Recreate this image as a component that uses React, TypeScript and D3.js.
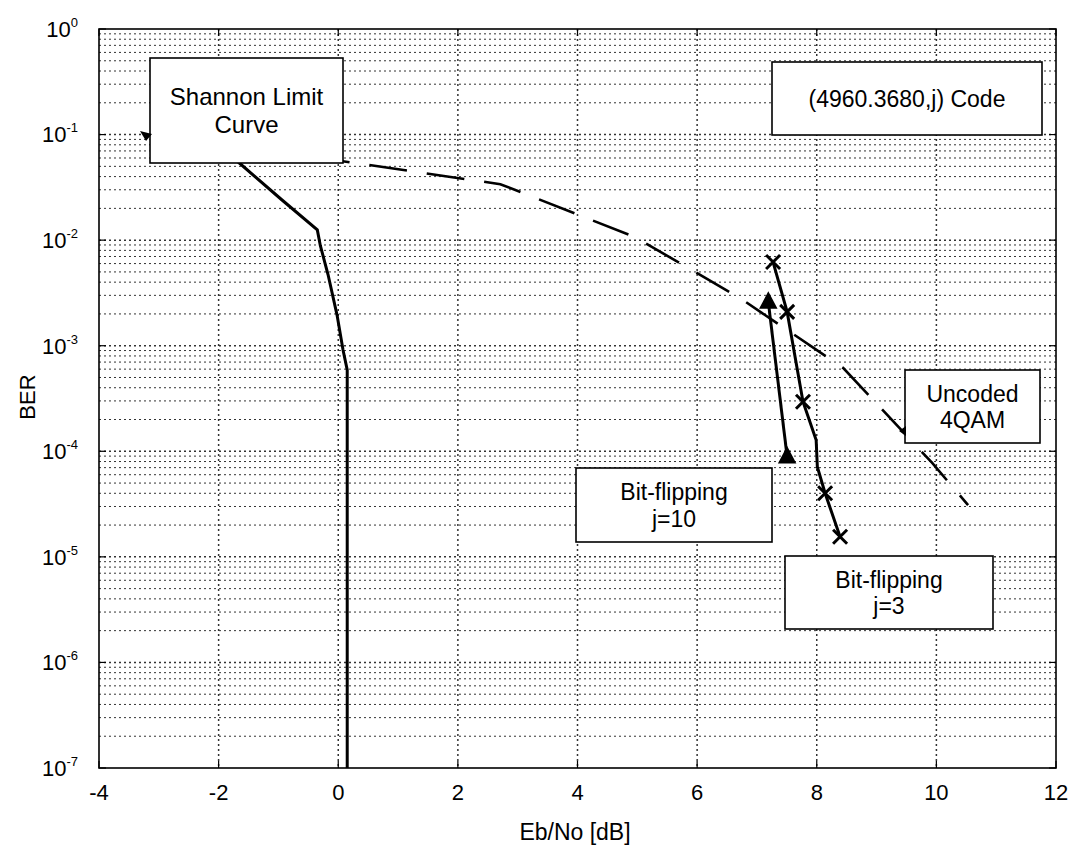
import React from 'react';
import * as d3 from 'd3';

// Shannon limit curve
const shannonX = [-1.75, -0.94, -0.35, -0.3, -0.17, -0.02, 0.08, 0.15, 0.15];
const shannonY = [0.06, 0.024, 0.0125, 0.0089, 0.0047, 0.00195, 0.00091, 0.00059, 1e-7];

// uncoded 4QAM (dashed)
const uncodedX = [-0.44, 2.71, 4.96, 6.72, 8.44, 9.93, 10.53];
const uncodedY = [0.0617, 0.0339, 0.0107, 0.00282, 6.17e-4, 7.76e-5, 3.09e-5];

// bit-flipping j=3 (x markers), mark = draw a marker
const bf3X = [7.27, 7.505, 7.77, 7.99, 8.01, 8.14, 8.39];
const bf3Y = [6.2e-3, 2.09e-3, 2.95e-4, 1.28e-4, 7.1e-5, 4.0e-5, 1.55e-5];
const bf3Mark = [true, true, true, false, false, true, true];

// bit-flipping j=10 (triangles)
const bf10X = [7.19, 7.505];
const bf10Y = [2.6e-3, 8.9e-5];

const xTicks = [-4, -2, 0, 2, 4, 6, 8, 10, 12];
const yExps = [0, -1, -2, -3, -4, -5, -6, -7];

const W = 1069, H = 847;
const left = 99, right = 1056, top = 29, bottom = 768;

export default function App() {
  const x = d3.scaleLinear().domain([-4, 12]).range([left, right]);
  const y = d3.scaleLog().domain([1e-7, 1]).range([bottom, top]);

  const line = d3.line<[number, number]>().x(d => x(d[0])).y(d => y(d[1]));
  const zip = (a: number[], b: number[]) => a.map((v, i) => [v, b[i]] as [number, number]);

  const minor: number[] = [];
  for (let e = -7; e < 0; e++) for (let k = 2; k <= 9; k++) minor.push(k * Math.pow(10, e));

  const font = 'Liberation Sans, Arial, sans-serif';

  const box = (x0: number, y0: number, x1: number, y1: number, lines: string[], fs = 23) => {
    const cx = (x0 + x1) / 2, cy = (y0 + y1) / 2;
    const lh = fs * 1.15;
    return (
      <g>
        <rect x={x0} y={y0} width={x1 - x0} height={y1 - y0} fill="#fff" stroke="#000" strokeWidth={1.6} />
        {lines.map((t, i) => (
          <text key={i} x={cx} y={cy + (i - (lines.length - 1) / 2) * lh} dy="0.36em"
            textAnchor="middle" fontSize={fs} fontFamily={font}>{t}</text>
        ))}
      </g>
    );
  };

  return (
    <svg width={W} height={H} style={{ position: 'absolute', left: 0, top: 0, background: '#fff' }}>
      <rect width={W} height={H} fill="#fff" />
      {/* grid */}
      <g stroke="#333" strokeWidth={1} strokeDasharray="2 3">
        {minor.map((v, i) => <line key={'m' + i} x1={left} x2={right} y1={y(v)} y2={y(v)} />)}
        {yExps.slice(1, -1).map(e => <line key={'M' + e} x1={left} x2={right} y1={y(Math.pow(10, e))} y2={y(Math.pow(10, e))} strokeWidth={1.5} />)}
        {xTicks.slice(1, -1).map(t => <line key={'v' + t} x1={x(t)} x2={x(t)} y1={top} y2={bottom} strokeWidth={1.5} />)}
      </g>
      {/* ticks */}
      <g stroke="#000" strokeWidth={1.2}>
        {xTicks.map(t => <g key={'xt' + t}>
          <line x1={x(t)} x2={x(t)} y1={bottom} y2={bottom - 7} />
          <line x1={x(t)} x2={x(t)} y1={top} y2={top + 7} />
        </g>)}
        {yExps.map(e => <g key={'yt' + e}>
          <line x1={left} x2={left + 7} y1={y(Math.pow(10, e))} y2={y(Math.pow(10, e))} />
          <line x1={right} x2={right - 7} y1={y(Math.pow(10, e))} y2={y(Math.pow(10, e))} />
        </g>)}
      </g>
      <rect x={left} y={top} width={right - left} height={bottom - top} fill="none" stroke="#000" strokeWidth={1.6} />

      {/* curves */}
      <path d={line(zip(shannonX, shannonY)) || ''} fill="none" stroke="#000" strokeWidth={3} />
      <path d={line(zip(uncodedX, uncodedY)) || ''} fill="none" stroke="#000" strokeWidth={2.6} strokeDasharray="38 20" />
      <path d={line(zip(bf10X, bf10Y)) || ''} fill="none" stroke="#000" strokeWidth={3} />
      {bf10X.map((v, i) => {
        const px = x(v), py = y(bf10Y[i]);
        return <path key={'t' + i} d={`M${px},${py - 9} L${px + 8},${py + 6} L${px - 8},${py + 6} Z`} fill="#000" stroke="#000" strokeWidth={1.5} />;
      })}
      <path d={line(zip(bf3X, bf3Y)) || ''} fill="none" stroke="#000" strokeWidth={3} />
      {bf3X.map((v, i) => {
        if (!bf3Mark[i]) return null;
        const px = x(v), py = y(bf3Y[i]), s = 7;
        return <path key={'x' + i} d={`M${px - s},${py - s} L${px + s},${py + s} M${px + s},${py - s} L${px - s},${py + s}`} stroke="#000" strokeWidth={3} />;
      })}

      {/* annotation boxes */}
      {box(150, 58, 343, 163, ['Shannon Limit', 'Curve'], 24)}
      <path d="M140,131 L152,134 L146,141 Z" fill="#000" />
      {box(772, 62, 1042, 135, ['(4960.3680,j) Code'], 23)}
      {box(905, 370, 1040, 443, ['Uncoded', '4QAM'], 23)}
      <path d="M899,431 L906,426 L906,436 Z" fill="#000" />
      {box(576, 468, 772, 542, ['Bit-flipping', 'j=10'], 23)}
      {box(785, 556, 993, 629, ['Bit-flipping', 'j=3'], 23)}

      {/* tick labels */}
      {xTicks.map(t => (
        <text key={'xl' + t} x={x(t)} y={792} dy="0.36em" textAnchor="middle" fontSize={22} fontFamily={font}>{t}</text>
      ))}
      {yExps.map(e => (
        <text key={'yl' + e} x={78} y={y(Math.pow(10, e))} dy="0.36em" textAnchor="end" fontSize={22} fontFamily={font}>
          10<tspan dy={-10} fontSize={13}>{e}</tspan>
        </text>
      ))}
      <text x={575} y={832} dy="0.36em" textAnchor="middle" fontSize={23} fontFamily={font}>Eb/No [dB]</text>
      <text transform="translate(27,397) rotate(-90)" dy="0.36em" textAnchor="middle" fontSize={22} fontFamily={font}>BER</text>
    </svg>
  );
}
